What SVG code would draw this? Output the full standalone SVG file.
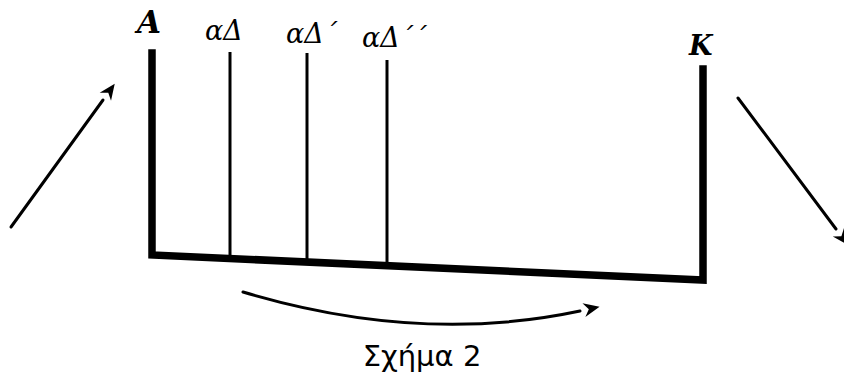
<svg xmlns="http://www.w3.org/2000/svg" width="844" height="382" viewBox="0 0 844 382">
<style>
.thick{stroke:#000;stroke-width:7.5;fill:none;stroke-linecap:square;stroke-linejoin:miter}
.thin{stroke:#000;stroke-width:3;fill:none;stroke-linecap:butt}
.conn{stroke:#000;stroke-width:3;fill:none;stroke-linecap:round}
.lbl{font-family:"DejaVu Serif",serif;font-style:italic;fill:#000}
.cap{font-family:"DejaVu Sans",sans-serif;font-size:29px;fill:#000}
</style>
<defs>
<marker id="ah" viewBox="-2 -9 26 18" markerWidth="26" markerHeight="18" refX="0" refY="0" orient="auto" markerUnits="userSpaceOnUse">
<path d="M20,0 L4,-7 L9,0 L4,7 Z" fill="#000"/>
</marker>
</defs>
<g id="vessel">
<polyline class="thick" points="152,53 152,255 703,280 703,69"/>
</g>
<g id="markers">
<line class="thin" x1="230" y1="52" x2="230" y2="259"/>
<line class="thin" x1="307" y1="53" x2="307" y2="262"/>
<line class="thin" x1="387" y1="60" x2="387" y2="265"/>
</g>
<g id="labels">
<text class="lbl" x="137" y="33" font-size="31" font-weight="bold">A</text>
<text class="lbl" x="205" y="40" font-size="27">αΔ</text>
<text class="lbl" x="286" y="43" font-size="27">αΔ´</text>
<text class="lbl" x="362" y="47" font-size="27">αΔ´´</text>
<text class="lbl" x="689" y="55" font-size="27" font-weight="bold">K</text>
</g>
<g id="connectors">
<line class="conn" x1="11" y1="227" x2="103" y2="100" marker-end="url(#ah)"/>
<line class="conn" x1="738" y1="98" x2="836" y2="229" marker-end="url(#ah)"/>
<path class="conn" d="M243,292 Q420,345 580,311" marker-end="url(#ah)"/>
</g>
<text class="cap" x="422" y="366" text-anchor="middle">Σχήμα 2</text>
</svg>
